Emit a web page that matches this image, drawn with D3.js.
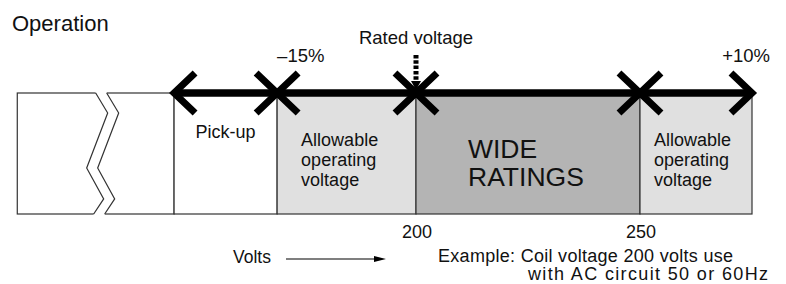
<!DOCTYPE html>
<html>
<head>
<meta charset="utf-8">
<script src="https://cdn.jsdelivr.net/npm/d3@7"></script>
<style>
  body { margin: 0; background: #fff; }
  text { font-family: "Liberation Sans", Arial, Helvetica, sans-serif; fill: #111; }
</style>
</head>
<body>
<svg width="786" height="284"></svg>
<script>
/*
    Values
*/
const bounds       = [111, 146, 169, 200, 250, 275];   // volts at each region edge
const regionLines  = [[], ["Pick-up"], ["Allowable", "operating", "voltage"], ["WIDE", "RATINGS"], ["Allowable", "operating", "voltage"]];
const regionFills  = ["#fff", "#fff", "#e0e0e0", "#b4b4b4", "#e0e0e0"];
const tickValues   = [200, 250];
const pctLabels    = ["\u201315%", "+10%"];
const pctAt        = [169, 275];
const ratedVoltage = 200;
const breakAt      = 128.5;

const svg = d3.select("svg");
const x = d3.scaleLinear().domain([200, 250]).range([416, 640]);

const boxTop = 93, boxBottom = 214, h = boxBottom - boxTop;

// regions
const regions = d3.range(bounds.length - 1).map(i => ({
    x0: x(bounds[i]), x1: x(bounds[i + 1]), lines: regionLines[i], fill: regionFills[i], i: i
}));

svg.append("g").selectAll("rect")
    .data(regions)
    .enter()
    .append("rect")
    .attr("x", d => d.x0)
    .attr("y", boxTop)
    .attr("width", d => d.x1 - d.x0)
    .attr("height", h)
    .attr("fill", d => d.fill)
    .attr("stroke", "#333")
    .attr("stroke-width", 1.2);

// axis break (zigzag) on the first region
const zz = [[0, 0], [12, .165], [-9, .62], [8, .875], [-2, 1]];
const bx = x(breakAt);
const gap = 11;
const zline = d3.line().x(d => d[0]).y(d => d[1]);
const l1 = zz.map(p => [bx + p[0], boxTop + p[1] * h]);
const l2 = zz.map(p => [bx + p[0] + gap, boxTop + p[1] * h]);
const cover = [[l1[0][0], boxTop - 2], ...l1, [l1[4][0], boxBottom + 2], [l2[4][0], boxBottom + 2], ...l2.slice().reverse(), [l2[0][0], boxTop - 2]];
svg.append("path").attr("d", zline(cover) + "Z").attr("fill", "#fff");
[l1, l2].forEach(l => {
    svg.append("path").attr("d", zline(l)).attr("fill", "none").attr("stroke", "#333").attr("stroke-width", 1.2);
});

// region labels
const lab = svg.append("g");
regions.forEach(r => {
    if (!r.lines.length) return;
    if (r.i === 1) {
        lab.append("text").attr("x", (r.x0 + r.x1) / 2).attr("y", boxTop + 45)
            .attr("text-anchor", "middle").style("font-size", "18px").text(r.lines[0]);
    } else if (r.i === 3) {
        r.lines.forEach((s, k) => {
            lab.append("text").attr("x", r.x0 + 52).attr("y", boxTop + 65 + k * 28)
                .style("font-size", "26.5px").text(s);
        });
    } else {
        const pad = r.i === 2 ? 24 : 14;
        r.lines.forEach((s, k) => {
            lab.append("text").attr("x", r.x0 + pad).attr("y", boxTop + 53 + k * 20)
                .style("font-size", "18px").text(s);
        });
    }
});

// thick double arrows on the top edge
const arrowY = boxTop;
svg.append("line")
    .attr("x1", x(bounds[1])).attr("x2", x(bounds[bounds.length - 1]))
    .attr("y1", arrowY).attr("y2", arrowY)
    .attr("stroke", "#000").attr("stroke-width", 7.5);

function chevron(px, dir) {
    // dir = -1 points left, +1 points right
    return zline([[px - dir * 21, arrowY - 20], [px, arrowY], [px - dir * 21, arrowY + 20]]);
}
const heads = [];
bounds.slice(1).forEach((b, i, arr) => {
    if (i > 0) heads.push(chevron(x(b), 1));
    if (i < arr.length - 1) heads.push(chevron(x(b), -1));
});
svg.append("g").selectAll("path")
    .data(heads)
    .enter()
    .append("path")
    .attr("d", d => d)
    .attr("fill", "none")
    .attr("stroke", "#000")
    .attr("stroke-width", 7)
    .attr("stroke-linejoin", "miter");

// rated voltage dashed arrow
const rx = x(ratedVoltage);
svg.append("line")
    .attr("x1", rx).attr("x2", rx).attr("y1", 55).attr("y2", 82)
    .attr("stroke", "#000").attr("stroke-width", 5).attr("stroke-dasharray", "3.5,1.8");
svg.append("path")
    .attr("d", zline([[rx - 5, 81], [rx + 5, 81], [rx, 90]]) + "Z")
    .attr("fill", "#000");
svg.append("text").attr("x", rx).attr("y", 44).attr("text-anchor", "middle")
    .style("font-size", "18.5px").text("Rated voltage");

// percent labels
svg.append("g").selectAll("text")
    .data(pctLabels)
    .enter()
    .append("text")
    .attr("x", (d, i) => i === 0 ? x(pctAt[i]) : x(pctAt[i]) + 18)
    .attr("y", 62)
    .attr("text-anchor", (d, i) => i === 0 ? "start" : "end")
    .style("font-size", "18.5px")
    .text(d => d);

// tick values
svg.append("g").selectAll("text")
    .data(tickValues)
    .enter()
    .append("text")
    .attr("x", d => x(d) + 1)
    .attr("y", 238)
    .attr("text-anchor", "middle")
    .style("font-size", "18px")
    .text(d => d);

// title
svg.append("text").attr("x", 12).attr("y", 31).style("font-size", "22px").text("Operation");

// volts arrow + example note
svg.append("text").attr("x", 233).attr("y", 263).style("font-size", "17.5px").text("Volts");
svg.append("line").attr("x1", 286).attr("x2", 376).attr("y1", 259).attr("y2", 259)
    .attr("stroke", "#000").attr("stroke-width", 1.2);
svg.append("path").attr("d", zline([[374, 256], [386, 259], [374, 262]]) + "Z").attr("fill", "#000");

svg.append("text").attr("x", 438).attr("y", 262).style("font-size", "18px")
    .attr("textLength", 295).attr("lengthAdjust", "spacing")
    .text("Example: Coil voltage 200 volts use");
svg.append("text").attr("x", 528).attr("y", 280).style("font-size", "18px")
    .attr("textLength", 240).attr("lengthAdjust", "spacing")
    .text("with AC circuit 50 or 60Hz");
</script>
</body>
</html>
